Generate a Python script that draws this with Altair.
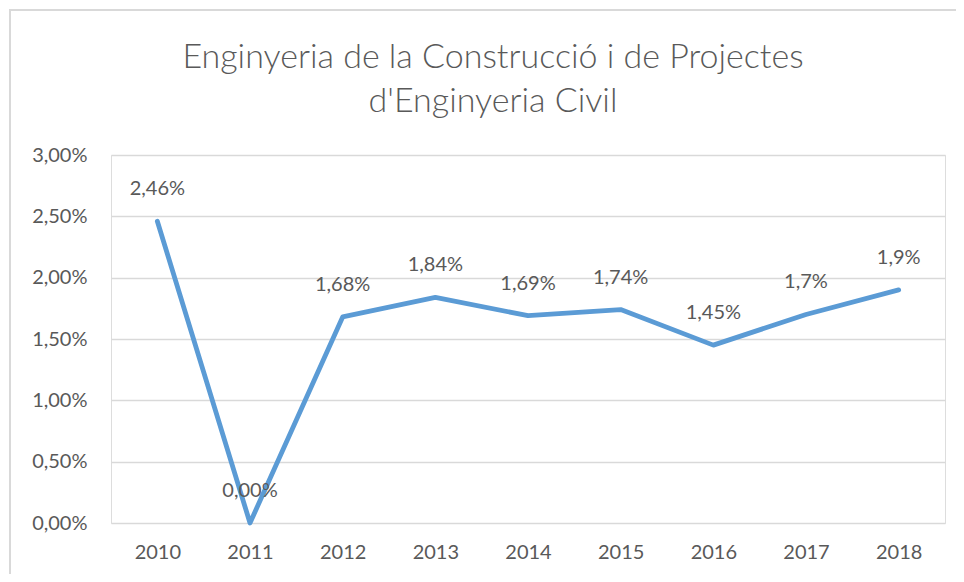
import altair as alt
import pandas as pd

years = ["2010", "2011", "2012", "2013", "2014", "2015", "2016", "2017", "2018"]
values = [2.46, 0.00, 1.68, 1.84, 1.69, 1.74, 1.45, 1.70, 1.90]
labels = ["2,46%", "0,00%", "1,68%", "1,84%", "1,69%", "1,74%", "1,45%", "1,7%", "1,9%"]
y_ticks = [0, 0.5, 1.0, 1.5, 2.0, 2.5, 3.0]

df = pd.DataFrame({"year": years, "value": values, "label": labels})

FONT = "Lato"
GREY = "#595959"
W, H = 834, 368

x_enc = alt.X("year:N", sort=years, title=None,
              scale=alt.Scale(type="point", padding=0.5),
              axis=alt.Axis(labelAngle=0, ticks=False, domain=False, labelPadding=19,
                            labelFont=FONT, labelFontSize=20, labelColor=GREY))
y_enc = alt.Y("value:Q", title=None,
              scale=alt.Scale(domain=[0, 3], nice=False),
              axis=alt.Axis(values=y_ticks, ticks=False, domain=False, labelPadding=24,
                            labelExpr="replace(format(datum.value, '.2f'), '.', ',') + '%'",
                            labelFont=FONT, labelFontSize=20, labelColor=GREY,
                            grid=True, gridColor="#d9d9d9", gridWidth=1.3))

base = alt.Chart(df)

line = base.mark_line(color="#5B9BD5", strokeWidth=4.8, strokeCap="round", strokeJoin="round").encode(
    x=x_enc, y=y_enc)

text = base.mark_text(dy=-32, font=FONT, fontSize=20, color=GREY).encode(
    x=alt.X("year:N", sort=years), y="value:Q", text="label:N")

border = base.mark_rect(fill=None, stroke="#d9d9d9", strokeWidth=1.5).encode(
    x=alt.value(-101), x2=alt.value(W + 200), y=alt.value(-145), y2=alt.value(H + 200))

chart = alt.layer(border, line, text).properties(
    width=W, height=H,
    title=alt.TitleParams(
        text=["Enginyeria de la Construcció i de Projectes", "d'Enginyeria Civil"],
        font=FONT, fontSize=34, fontWeight=300, color=GREY,
        anchor="middle", frame="group", lineHeight=44, offset=-110, dx=-35),
    autosize=alt.AutoSizeParams(type="none"),
    padding={"left": 103, "top": 147, "right": 11, "bottom": 51},
).configure_view(stroke=None).configure(background="white")

chart.save("out.html", embed_options={"renderer": "svg", "actions": False})
